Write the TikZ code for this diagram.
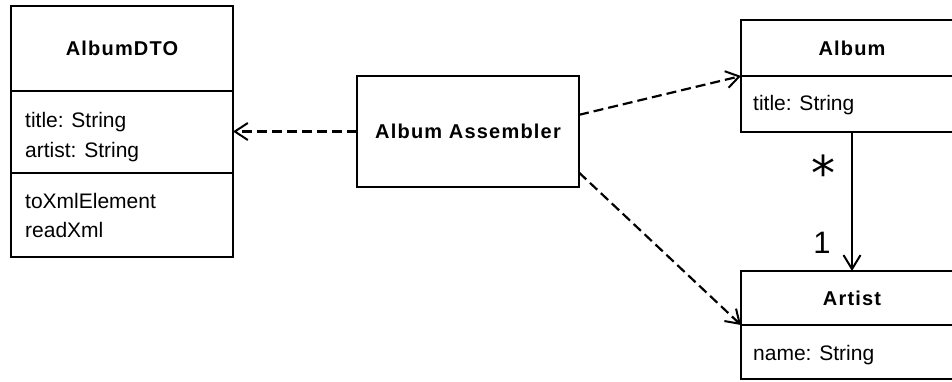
\documentclass[tikz,border=0pt]{standalone}
\usepackage{fontspec}
\setmainfont{Liberation Sans}
\newfontfamily\boldf[LetterSpace=6]{Liberation Sans}
\newfontfamily\starf{DejaVu Sans}
\usetikzlibrary{arrows.meta,calc}
\tikzset{
  box/.style={draw, line width=2pt, inner sep=0pt, outer sep=0pt, fill=white},
  ttl/.style={font=\boldf\bfseries\fontsize{20}{24}\selectfont},
  attr/.style={font=\fontsize{21}{25}\selectfont, anchor=base west, inner sep=0pt},
  dep/.style={line width=2.2pt, dash pattern=on 10pt off 5pt, -{Straight Barb[length=13pt,width=17pt,line width=2pt]}},
  assoc/.style={line width=2pt, -{Straight Barb[length=14pt,width=17pt,line width=2pt]}},
  mult/.style={font=\fontsize{30}{34}\selectfont, anchor=base, inner sep=0pt}
}
\begin{document}
\begin{tikzpicture}[x=1pt,y=-1pt]
\clip (0,0) rectangle (952,381);
\fill[white] (0,0) rectangle (952,381);
% AlbumDTO
\node[box, minimum width=222pt, minimum height=251pt, anchor=north west] (dto) at (11,6) {};
\draw[line width=2pt] (11,91) coordinate (dtod1) -- (233,91);
\draw[line width=2pt] (11,173) coordinate (dtod2) -- (233,173);
\node[ttl] (dtot) at (122,48) {AlbumDTO};
\node[attr] (dtoa1) at (25,127) {title: String};
\node[attr] (dtoa2) at (25,157) {artist: String};
\node[attr] (dtom1) at (25,208) {toXmlElement};
\node[attr] (dtom2) at (25,237) {readXml};
% Assembler
\node[box, ttl, minimum width=222pt, minimum height=111pt] (asm) at (468,131.5) {Album Assembler};
% Album
\node[box, minimum width=222pt, minimum height=112pt, anchor=north west] (album) at (741,20) {};
\draw[line width=2pt] (741,76) coordinate (albd) -- (963,76);
\node[ttl] (albt) at (852,48) {Album};
\node[attr] (alba1) at (753,110) {title: String};
% Artist
\node[box, minimum width=222pt, minimum height=108pt, anchor=north west] (artist) at (741,271) {};
\draw[line width=2pt] (741,325) coordinate (artd) -- (963,325);
\node[ttl] (artt) at (852,298) {Artist};
\node[attr] (arta1) at (753,360) {name: String};
% connectors
\draw[dep] (asm.west) -- (dto.east);
\draw[dep] ($(asm.north east)!0.35!(asm.south east)$) -- (albd);
\draw[dep] ($(asm.north east)!0.87!(asm.south east)$) -- (artd);
\draw[assoc] (album.south) -- (artist.north);
\node[mult, font=\starf\fontsize{48}{52}\selectfont] (mstar) at (823,190) {*};
\node[mult, font=\fontsize{31}{35}\selectfont] (mone) at (822,253) {1};
\end{tikzpicture}
\end{document}
